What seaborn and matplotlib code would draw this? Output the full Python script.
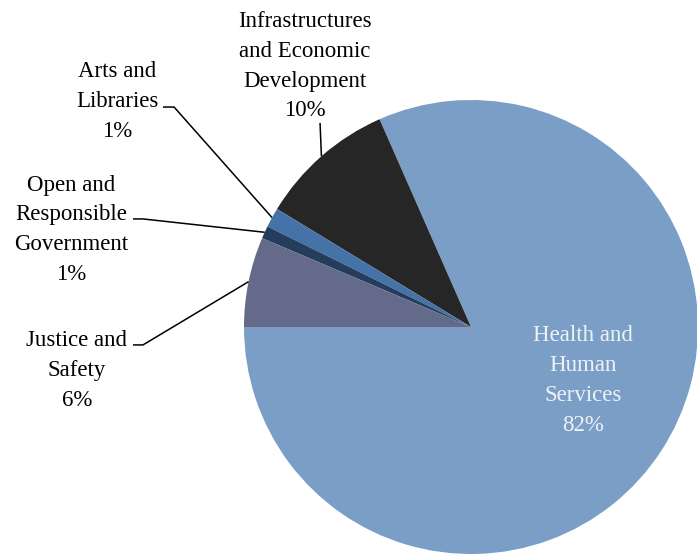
import numpy as np
import matplotlib
matplotlib.use("Agg")
import matplotlib.pyplot as plt
import seaborn as sns

sns.set_theme(style="white")
plt.rcParams['font.family'] = ['Liberation Serif', 'DejaVu Serif']

# Data (share of budget, %), drawn counterclockwise from 9 o'clock
categories = ['Health and\nHuman\nServices', 'Infrastructures\nand Economic\nDevelopment',
              'Arts and\nLibraries', 'Open and\nResponsible\nGovernment', 'Justice and\nSafety']
values = [81.6, 9.7, 1.4, 0.9, 6.4]
colors = ['#7B9EC6', '#262626', '#4572A7', '#253D5C', '#646A8A']

fig = plt.figure(figsize=(6.97, 5.57), dpi=100)
ax = fig.add_axes([0, 0, 1, 1])

wedges, _ = ax.pie(values, colors=colors, startangle=180, counterclock=True,
                   radius=1.0, wedgeprops=dict(linewidth=0))

pcts = np.array(values) / sum(values) * 100
labels = [f"{c}\n{p:.0f}%" for c, p in zip(categories, pcts)]

# label layout: text centre, elbow path (in units of the radius)
layout = [
    dict(xy=(0.493, -0.235), color='#EEF2F7', path=None),
    dict(xy=(-0.731, 1.149), color='black', path=[(-0.665, 0.899)]),
    dict(xy=(-1.559, 0.994), color='black', path=[(-1.357, 0.969), (-1.308, 0.969)]),
    dict(xy=(-1.762, 0.428), color='black', path=[(-1.489, 0.476), (-1.445, 0.476)]),
    dict(xy=(-1.736, -0.191), color='black', path=[(-1.489, -0.079), (-1.445, -0.079)]),
]

for w, lab, lay in zip(wedges, labels, layout):
    ax.text(lay['xy'][0], lay['xy'][1], lab, ha='center', va='center',
            fontsize=16.5, color=lay['color'], linespacing=1.55)
    if lay['path']:
        ang = np.deg2rad((w.theta1 + w.theta2) / 2)
        pts = lay['path'] + [(np.cos(ang), np.sin(ang))]
        xs, ys = zip(*pts)
        ax.plot(xs, ys, color='black', lw=1.1, solid_capstyle='butt')

ax.set_xlim(-471 / 227, (697 - 471) / 227)
ax.set_ylim(-(557 - 327) / 227, 327 / 227)
ax.set_aspect('equal')
ax.axis('off')

fig.savefig('out.png', dpi=100, facecolor='white')
